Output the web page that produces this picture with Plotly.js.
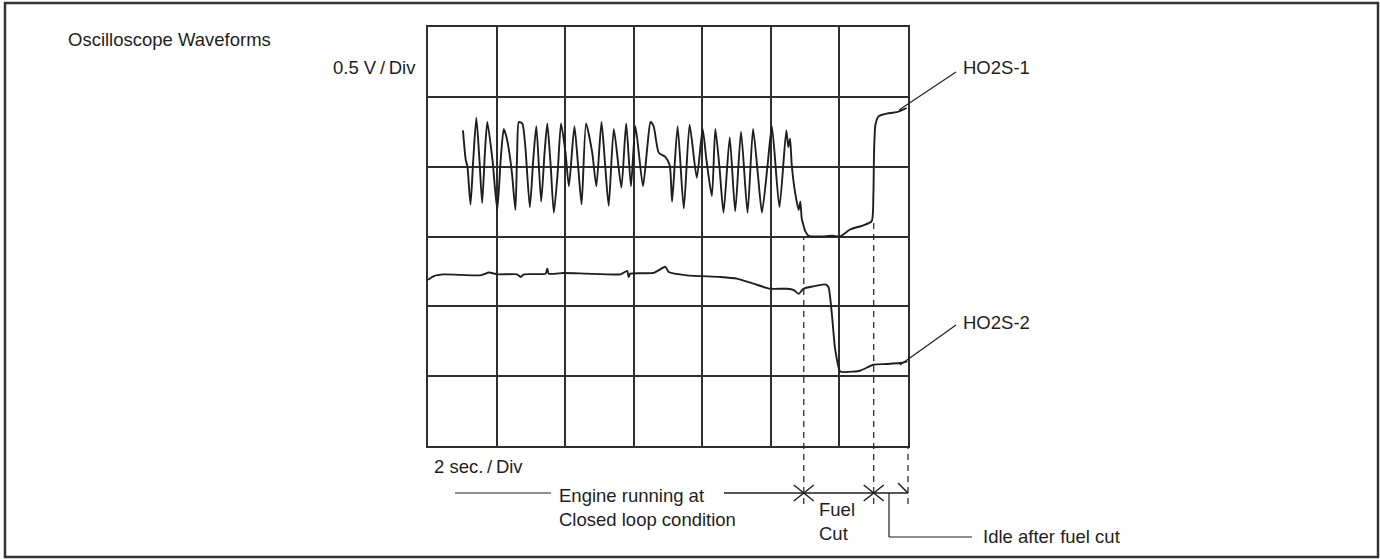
<!DOCTYPE html>
<html>
<head>
<meta charset="utf-8">
<script src="https://cdn.plot.ly/plotly-3.0.1.min.js"></script>
<style>html,body{margin:0;padding:0;background:#fff;}#chart{width:1380px;height:559px;}</style>
</head>
<body>
<div id="chart"></div>
<script>
// ---- data (time in seconds, 2 s/div; voltage, 0.5 V/div) ----
const ho2s1Time = [1.02,1.10,1.15,1.24,1.32,1.41,1.50,1.58,1.66,1.73,1.88,2.02,2.12,2.21,2.30,2.36,2.45,2.55,2.60,2.65,2.75,2.84,2.97,3.07,3.16,3.30,3.40,3.48,3.58,3.67,3.78,3.88,4.01,4.11,4.27,4.38,4.48,4.61,4.79,4.91,5.06,5.17,5.27,5.42,5.64,5.78,5.92,6.05,6.27,6.40,6.49,6.58,6.73,6.92,7.05,7.12,7.28,7.46,7.63,7.84,8.01,8.12,8.28,8.38,8.50,8.62,8.80,8.96,9.13,9.32,9.48,9.62,9.74,9.90,10.03,10.25,10.45,10.51,10.56,10.61,10.71,10.81,10.86,10.90,10.95,11.00,11.10,11.44,11.80,12.02,12.31,12.70,12.94,12.99,13.01,13.05,13.14,13.38,13.67,13.96];
const ho2s1Volt = [2.26,2.05,2.00,1.73,2.05,2.35,2.05,1.74,2.10,2.32,2.05,1.69,2.05,2.27,2.20,2.12,1.95,1.69,2.10,2.32,2.31,2.14,1.71,2.05,2.29,1.75,2.10,2.31,2.00,1.67,1.95,2.31,2.10,1.86,2.29,2.00,1.73,2.31,2.10,1.86,2.32,2.00,1.72,2.27,1.85,2.31,1.86,2.29,1.86,2.15,2.32,2.29,2.10,2.07,2.01,1.75,2.29,1.70,2.30,1.92,2.27,2.05,1.79,2.27,2.00,1.67,2.21,1.68,2.25,1.67,2.27,1.95,1.67,2.00,2.29,1.71,2.26,2.14,2.20,2.01,1.81,1.69,1.75,1.63,1.58,1.54,1.505,1.50,1.505,1.50,1.55,1.58,1.61,1.80,2.10,2.30,2.36,2.38,2.39,2.42];

const ho2s2Time = [0,0.17,0.47,1.53,1.78,2.02,2.60,2.70,2.80,3.43,3.48,3.52,3.96,4.64,5.61,5.81,5.85,5.90,6.58,6.92,7.02,7.55,8.52,9.01,9.50,9.98,10.47,10.66,10.81,10.95,11.24,11.58,11.68,11.78,11.87,12.02,12.17,12.60,12.99,13.38,13.77,13.98];
const ho2s2Volt = [1.19,1.217,1.229,1.222,1.242,1.229,1.229,1.21,1.229,1.234,1.27,1.234,1.239,1.234,1.229,1.254,1.21,1.234,1.239,1.283,1.246,1.222,1.21,1.198,1.162,1.126,1.126,1.118,1.089,1.126,1.143,1.157,1.138,0.944,0.703,0.534,0.529,0.539,0.582,0.587,0.594,0.606];

const eventTimes = [10.96, 13.0, 14.0];   // fuel cut start, fuel cut end, end of idle
const xTicks = [0,2,4,6,8,10,12,14];
const yTicks = [0,0.5,1,1.5,2,2.5,3];

const labels = {
  title: 'Oscilloscope Waveforms',
  vdiv: '0.5 V\u2009/\u2009Div',
  tdiv: '2 sec.\u2009/\u2009Div',
  s1: 'HO2S-1',
  s2: 'HO2S-2',
  engine: 'Engine running at<br>Closed loop condition',
  fuel: 'Fuel<br>Cut',
  idle: 'Idle after fuel cut'
};

// ---- layout geometry (pixels) ----
const W = 1380, H = 559;
const L = 428, R = 908, T = 27, B = 446;
const px = X => (X - L) / (R - L);        // pixel x -> paper
const py = Y => (B - Y) / (B - T);        // pixel y -> paper
const tx = t => t / 14;                   // time -> paper x

const INK = '#1e1e1e';
const GRID = '#2e2e2e';
const FONT = {family: 'Liberation Sans, Arial, sans-serif', size: 18.5, color: INK};

const traces = [
  {x: ho2s1Time, y: ho2s1Volt, mode: 'lines', line: {color: INK, width: 1.9, shape: 'spline', smoothing: 0.6}, hoverinfo: 'skip'},
  {x: ho2s2Time, y: ho2s2Volt, mode: 'lines', line: {color: INK, width: 1.9, shape: 'spline', smoothing: 0.5}, hoverinfo: 'skip'}
];

const shapes = [];
function seg(x0, y0, x1, y1, extra) {
  shapes.push(Object.assign({type: 'line', xref: 'paper', yref: 'paper', x0, y0, x1, y1,
    line: {color: INK, width: 1.5}, layer: 'above'}, extra || {}));
}
// outer frame
shapes.push({type: 'rect', xref: 'paper', yref: 'paper', x0: px(5), y0: py(557), x1: px(1378), y1: py(3),
  line: {color: '#333', width: 2.5}, fillcolor: 'rgba(0,0,0,0)'});

// dashed event lines
const arrowY = py(493);
const dashBottom = py(504);
const dashTops = [py(238), py(222), py(446)];
eventTimes.forEach((t, i) => {
  seg(tx(t), dashBottom, tx(t), dashTops[i], {line: {color: INK, width: 1.2, dash: '6px,5px'}});
});

// horizontal timeline
seg(px(455), arrowY, px(551), arrowY, {line: {color: INK, width: 1.2}});
seg(px(724), arrowY, tx(eventTimes[2]), arrowY, {line: {color: INK, width: 1.5}});
// X marks at event boundaries
[eventTimes[0], eventTimes[1]].forEach(t => {
  const dx = 10 / (R - L), dy = 8 / (B - T);
  seg(tx(t) - dx, arrowY + dy, tx(t) + dx, arrowY - dy);
  seg(tx(t) - dx, arrowY - dy, tx(t) + dx, arrowY + dy);
});
// arrow head barb at end
seg(tx(eventTimes[2]) - 10 / (R - L), arrowY + 10 / (B - T), tx(eventTimes[2]), arrowY);

// Idle leader
seg(px(889), arrowY, px(889), py(537), {line: {color: INK, width: 1.2}});
seg(px(889), py(537), px(972), py(537), {line: {color: INK, width: 1.2}});

// HO2S leaders
seg(px(899), py(110), px(956), py(72), {line: {color: INK, width: 1.2}});
seg(px(900), py(365), px(956), py(325), {line: {color: INK, width: 1.2}});

function ann(text, X, Y, xanchor, align) {
  return {text, xref: 'paper', yref: 'paper', x: px(X), y: py(Y), xanchor: xanchor || 'left', yanchor: 'middle',
    showarrow: false, align: align || 'left', font: FONT};
}
const annotations = [
  ann(labels.title, 66, 40),
  ann(labels.vdiv, 418, 67, 'right'),
  ann(labels.tdiv, 432, 466),
  ann(labels.s1, 961, 67),
  ann(labels.s2, 961, 322),
  ann(labels.engine, 557, 507),
  ann(labels.fuel, 817, 521),
  ann(labels.idle, 981, 536)
];

const axisCommon = {
  showgrid: true, gridcolor: GRID, gridwidth: 2,
  showline: true, linecolor: GRID, linewidth: 2, mirror: true,
  zeroline: false, showticklabels: false, ticks: '', fixedrange: true
};

const layout = {
  width: W, height: H,
  margin: {l: L, r: W - R, t: T, b: H - B, pad: 0},
  paper_bgcolor: '#fff', plot_bgcolor: '#fff',
  showlegend: false,
  xaxis: Object.assign({range: [0, 14], tickvals: xTicks}, axisCommon),
  yaxis: Object.assign({range: [0, 3], tickvals: yTicks}, axisCommon),
  shapes, annotations,
  font: FONT
};

Plotly.newPlot('chart', traces, layout, {staticPlot: true, displayModeBar: false});
</script>
</body>
</html>
